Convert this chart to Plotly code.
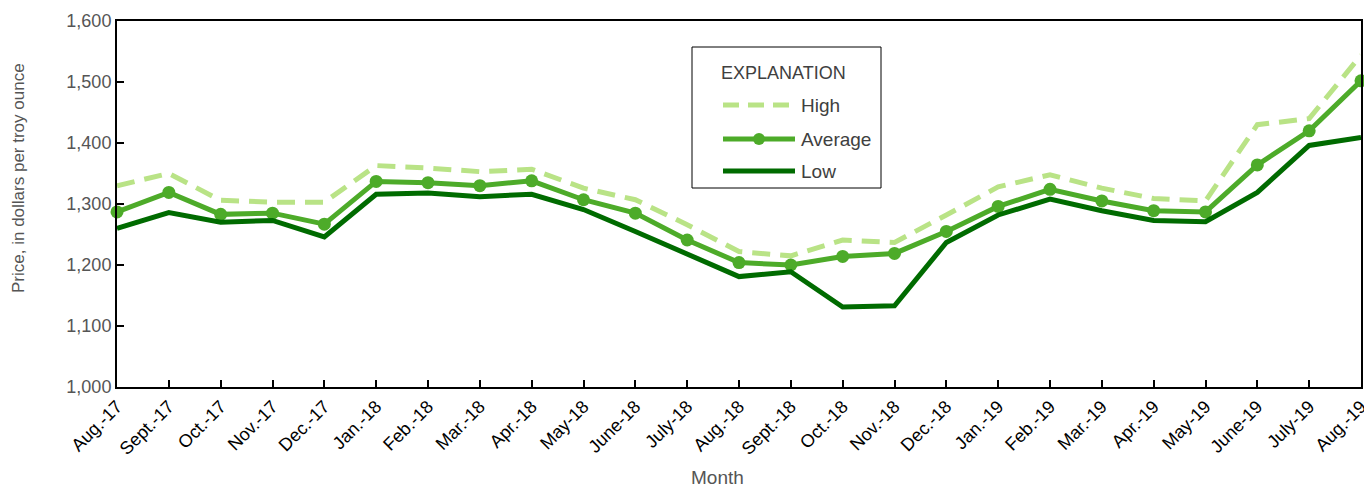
import plotly.graph_objects as go

months = ["Aug.-17", "Sept.-17", "Oct.-17", "Nov.-17", "Dec.-17", "Jan.-18", "Feb.-18", "Mar.-18",
          "Apr.-18", "May-18", "June-18", "July-18", "Aug.-18", "Sept.-18", "Oct.-18", "Nov.-18",
          "Dec.-18", "Jan.-19", "Feb.-19", "Mar.-19", "Apr.-19", "May-19", "June-19", "July-19", "Aug.-19"]
high = [1330, 1350, 1306, 1303, 1303, 1363, 1359, 1353, 1357, 1326, 1307, 1266, 1222, 1215,
        1241, 1237, 1282, 1328, 1348, 1326, 1309, 1305, 1430, 1440, 1544]
average = [1287, 1319, 1283, 1285, 1267, 1337, 1335, 1330, 1338, 1307, 1285, 1241, 1204, 1200,
           1214, 1219, 1255, 1296, 1324, 1305, 1289, 1287, 1364, 1420, 1502]
low = [1260, 1286, 1270, 1273, 1246, 1316, 1318, 1312, 1316, 1291, 1255, 1219, 1181, 1189,
       1131, 1133, 1237, 1282, 1308, 1289, 1273, 1271, 1319, 1396, 1409]
yticks = [1000, 1100, 1200, 1300, 1400, 1500, 1600]
ytick_labels = ["1,000", "1,100", "1,200", "1,300", "1,400", "1,500", "1,600"]

C_HIGH = "#b9e386"
C_AVG = "#4dab29"
C_LOW = "#006b00"
THIN = "Liberation Sans, Arial, sans-serif"
GRAY = "#555555"

fig = go.Figure()
fig.add_trace(go.Scatter(x=months, y=high, mode="lines", name="High",
                         line=dict(color=C_HIGH, width=5, dash="18px,10px"), cliponaxis=False))
fig.add_trace(go.Scatter(x=months, y=average, mode="lines+markers", name="Average",
                         line=dict(color=C_AVG, width=5), marker=dict(size=13, color=C_AVG),
                         cliponaxis=False))
fig.add_trace(go.Scatter(x=months, y=low, mode="lines", name="Low",
                         line=dict(color=C_LOW, width=5), cliponaxis=False))

# Page has an 8px body margin; the figure is sized so the plot lands where the reference's does.
OFF = 8
W, H = 1372 - OFF, 487 - OFF
L, R, T, B = 117 - OFF, 11, 21 - OFF, 100
pw, ph = W - L - R, H - T - B
def px(x):  # page pixel -> paper fraction
    return (x - OFF - L) / pw
def py(y):
    return 1 - (y - OFF - T) / ph

# Manual legend ("EXPLANATION" box)
fig.add_shape(type="rect", xref="paper", yref="paper", x0=px(692), x1=px(881), y0=py(188), y1=py(47),
              line=dict(color="black", width=1), fillcolor="white", layer="above")
fig.add_annotation(xref="paper", yref="paper", x=px(719), y=py(73), text="EXPLANATION", showarrow=False,
                   xanchor="left", yanchor="middle", font=dict(family=THIN, size=18, color="#404040"))
items = [("High", 105, C_HIGH, "dash"), ("Average", 139, C_AVG, "solid"), ("Low", 171, C_LOW, "solid")]
for name, yy, col, dsh in items:
    fig.add_shape(type="line", xref="paper", yref="paper", x0=px(723), x1=px(795), y0=py(yy), y1=py(yy),
                  line=dict(color=col, width=5, dash="16px,9px" if dsh == "dash" else "solid"), layer="above")
    fig.add_annotation(xref="paper", yref="paper", x=px(799), y=py(yy), text=name, showarrow=False,
                       xanchor="left", yanchor="middle", font=dict(family=THIN, size=19, color="#404040"))
fig.add_shape(type="circle", xref="paper", yref="paper", x0=px(753), x1=px(765), y0=py(145), y1=py(133),
              line=dict(color=C_AVG, width=0), fillcolor=C_AVG, layer="above")

# Axis titles
fig.add_annotation(xref="paper", yref="paper", x=px(19), y=py(178), text="Price, in dollars per troy ounce",
                   textangle=-90, showarrow=False, xanchor="center", yanchor="middle",
                   font=dict(family=THIN, size=17, color=GRAY))
fig.add_annotation(xref="paper", yref="paper", x=px(717), y=py(477), text="Month", showarrow=False,
                   xanchor="center", yanchor="middle", font=dict(family=THIN, size=19, color=GRAY))

fig.update_layout(
    width=W, height=H,
    margin=dict(l=L, r=R, t=T, b=B),
    plot_bgcolor="white", paper_bgcolor="white",
    showlegend=False,
    xaxis=dict(
        range=[0, 24], type="category", showgrid=False, zeroline=False, automargin=False,
        showline=True, linecolor="black", linewidth=2, mirror=True,
        ticks="inside", ticklen=7, tickwidth=2, tickcolor="black",
        tickangle=-45, tickfont=dict(family="Liberation Sans, Arial, sans-serif", size=18, color="black"),
    ),
    yaxis=dict(
        range=[1000, 1600], tickvals=yticks, ticktext=ytick_labels, showgrid=False, zeroline=False,
        automargin=False,
        showline=True, linecolor="black", linewidth=2, mirror=True,
        ticks="inside", ticklen=7, tickwidth=2, tickcolor="black",
        tickfont=dict(family=THIN, size=18, color=GRAY),
    ),
)

fig.write_html("out.html")
